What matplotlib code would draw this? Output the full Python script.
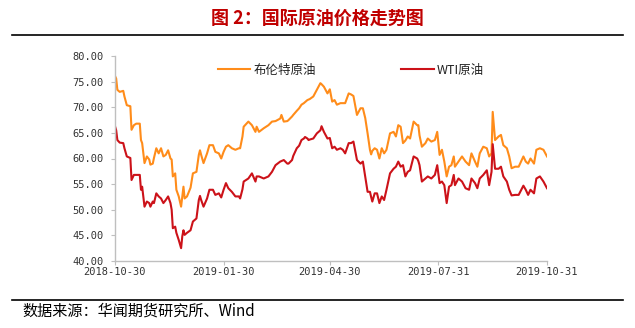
import matplotlib
matplotlib.use("Agg")
import matplotlib.pyplot as plt
from matplotlib.lines import Line2D
import pandas as pd

start_date = "2018-10-30"
day_offsets = [0, 1, 2, 4, 7, 8, 10, 13, 14, 16, 18, 21, 22, 23, 25, 27, 29, 30, 32, 33,
               35, 37, 39, 41, 43, 45, 47, 48, 49, 51, 52, 54, 56, 57, 58, 59, 61, 64, 66, 69,
               71, 72, 73, 75, 78, 80, 83, 85, 88, 90, 92, 94, 96, 99, 102, 105, 106, 108, 109, 113,
               116, 119, 120, 122, 126, 130, 133, 136, 140, 141, 143, 146, 147, 150, 151, 154, 156, 158, 160, 161,
               163, 164, 165, 168, 171, 174, 175, 177, 180, 182, 184, 186, 188, 191, 193, 195, 198, 200, 202, 205,
               208, 210, 212, 214, 216, 217, 218, 220, 222, 224, 226, 228, 230, 233, 236, 238, 240, 242, 244, 246,
               248, 250, 253, 256, 257, 258, 260, 263, 265, 268, 271, 273, 275, 277, 279, 281, 283, 285, 287, 288,
               291, 294, 297, 300, 302, 305, 307, 309, 312, 315, 317, 319, 320, 322, 325, 327, 329, 332, 334, 336,
               339, 342, 346, 348, 350, 352, 355, 357, 360, 363, 366]

brent = [76.1, 75.6, 73.4, 73.0, 73.2, 72.1, 70.4, 70.2, 65.6, 66.5, 66.8, 66.8, 63.6, 63.0, 59.1, 60.4, 59.8, 58.8, 59.0, 60.1,
         62.0, 61.0, 62.0, 60.4, 60.7, 61.6, 60.0, 59.8, 56.5, 57.1, 53.9, 52.6, 50.6, 52.6, 54.5, 52.2, 52.6, 54.3, 57.1, 57.4,
         60.7, 61.6, 60.7, 59.1, 61.0, 62.6, 62.6, 61.3, 61.0, 60.0, 61.3, 62.3, 62.6, 62.0, 61.7, 62.0, 62.0, 64.3, 66.2, 67.2,
         66.5, 65.2, 66.2, 65.2, 65.9, 66.5, 67.2, 67.3, 67.8, 68.5, 67.2, 67.3, 67.5, 68.2, 68.5, 69.3, 69.8, 70.5, 70.8, 71.0,
         71.4, 71.5, 71.6, 72.1, 73.4, 74.7, 74.5, 74.0, 72.7, 73.5, 71.1, 71.4, 70.5, 70.8, 70.8, 70.8, 72.7, 72.5, 72.2, 68.5,
         69.8, 69.8, 67.9, 64.9, 61.7, 60.8, 61.5, 62.0, 61.7, 60.0, 62.0, 61.0, 61.7, 64.9, 65.2, 64.3, 66.5, 66.2, 63.0, 63.5,
         64.3, 63.9, 67.2, 66.5, 66.5, 64.5, 62.3, 63.0, 63.9, 63.3, 63.6, 65.2, 60.7, 61.7, 59.4, 56.5, 58.4, 58.7, 60.4, 58.4,
         59.4, 60.4, 59.4, 58.7, 61.0, 59.4, 58.4, 61.0, 62.3, 62.0, 60.4, 61.0, 69.1, 63.6, 64.3, 64.6, 62.6, 62.0, 60.4, 58.1,
         58.4, 58.4, 60.4, 59.4, 59.0, 60.0, 59.0, 61.7, 62.0, 61.7, 60.4]

wti = [66.3, 65.5, 63.6, 63.1, 63.0, 62.0, 60.4, 60.1, 55.8, 56.8, 56.8, 56.8, 53.9, 54.5, 50.6, 51.6, 51.3, 50.6, 51.6, 51.3,
       53.2, 52.6, 52.2, 51.3, 51.9, 52.6, 51.3, 50.0, 46.4, 46.7, 45.5, 44.1, 42.5, 44.8, 46.0, 45.1, 45.5, 46.0, 47.7, 48.3,
       51.9, 52.7, 51.9, 50.6, 52.2, 53.9, 53.9, 52.9, 53.2, 52.4, 53.9, 55.2, 54.2, 53.5, 52.6, 52.6, 52.2, 54.0, 55.5, 56.1,
       57.1, 55.5, 56.5, 56.5, 56.1, 56.5, 57.4, 58.7, 59.4, 59.5, 59.7, 59.0, 59.0, 59.7, 60.5, 62.0, 62.5, 63.6, 63.9, 64.2,
       63.9, 63.6, 63.7, 63.9, 64.9, 65.5, 66.3, 65.2, 63.9, 64.0, 62.0, 62.3, 61.7, 62.0, 61.7, 61.0, 63.0, 63.0, 63.3, 59.7,
       59.0, 59.4, 56.5, 53.5, 53.5, 52.5, 51.6, 53.2, 53.2, 51.3, 52.6, 51.9, 53.9, 57.1, 58.0, 58.4, 59.4, 58.4, 58.7, 56.5,
       57.4, 57.7, 60.4, 60.0, 59.5, 58.7, 55.5, 56.1, 56.5, 56.1, 56.8, 58.7, 55.2, 55.5, 54.8, 51.3, 54.5, 54.8, 56.8, 54.8,
       56.1, 55.5, 54.2, 53.9, 56.1, 55.2, 54.2, 56.1, 56.8, 57.7, 54.8, 57.4, 62.8, 58.0, 58.0, 58.4, 56.5, 55.5, 53.9, 52.8,
       52.9, 52.9, 54.7, 53.9, 52.9, 53.9, 53.2, 56.1, 56.5, 55.5, 54.2]

series_names = ["布伦特原油", "WTI原油"]
x_tick_labels = ["2018-10-30", "2019-01-30", "2019-04-30", "2019-07-31", "2019-10-31"]
y_ticks = [40, 45, 50, 55, 60, 65, 70, 75, 80]
title_text = "图 2：国际原油价格走势图"
source_text = "数据来源：华闻期货研究所、Wind"

cjk = ["Noto Sans CJK SC", "DejaVu Sans"]
mono = ["DejaVu Sans Mono", "Noto Sans CJK SC"]

dates = pd.Timestamp(start_date) + pd.to_timedelta(day_offsets, unit="D")

fig = plt.figure(figsize=(6.35, 3.28), dpi=100)
ax = fig.add_axes([115 / 635, 1 - 261 / 328, 432 / 635, 205 / 328])

c_brent = "#FF8C1A"
c_wti = "#CC1219"
ax.plot(dates, brent, color=c_brent, lw=1.5, label=series_names[0])
ax.plot(dates, wti, color=c_wti, lw=1.5, label=series_names[1])

ax.set_ylim(40, 80)
ax.set_yticks(y_ticks)
ax.set_yticklabels([f"{v:.2f}" for v in y_ticks], fontfamily=mono, fontsize=7.5, color="#333333")
xt = pd.to_datetime(x_tick_labels)
ax.set_xlim(xt[0], xt[-1])
ax.set_xticks(xt)
ax.set_xticklabels(x_tick_labels, fontfamily=mono, fontsize=7.5, color="#333333")

for s in ["top", "right"]:
    ax.spines[s].set_visible(False)
for s in ["left", "bottom"]:
    ax.spines[s].set_color("#BFBFBF")
    ax.spines[s].set_linewidth(1.0)
ax.tick_params(axis="y", direction="out", length=3, color="#BFBFBF", pad=5)
ax.tick_params(axis="x", direction="out", length=3, color="#BFBFBF", pad=1)

leg = ax.legend(loc="center", bbox_to_anchor=(0.546, 0.93), ncol=2, frameon=False,
                prop={"family": cjk, "size": 9}, handlelength=2.6, handletextpad=0.25,
                columnspacing=6.8)
for t in leg.get_texts():
    t.set_color("#222222")

fig.text(0.5, 1 - 18 / 328, title_text, ha="center", va="center", fontsize=13,
         fontweight="bold", color="#C00000", fontfamily=cjk)
fig.add_artist(Line2D([12 / 635, 623 / 635], [1 - 35 / 328, 1 - 35 / 328], color="black", lw=1.2))
fig.add_artist(Line2D([12 / 635, 623 / 635], [1 - 300 / 328, 1 - 300 / 328], color="black", lw=1.2))
fig.text(22 / 635, 1 - 311 / 328, source_text, ha="left", va="center", fontsize=10.9,
         color="black", fontfamily=cjk)

fig.savefig("out.png", dpi=100)
